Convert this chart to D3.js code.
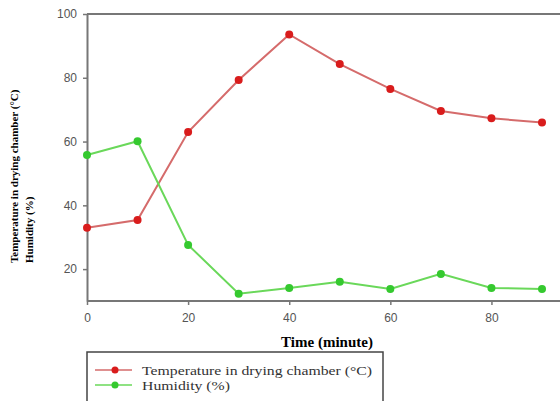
<!DOCTYPE html>
<html>
<head>
  <script src="https://d3js.org/d3.v7.min.js"></script>
  <style>
    body { margin: 0; background: #fff; }
  </style>
</head>
<body>
  <div id="chart"></div>
  <script>
    // data
    const times = [0, 10, 20, 30, 40, 50, 60, 70, 80, 90];
    const temperature = [33, 35.4, 63, 79.3, 93.6, 84.3, 76.5, 69.6, 67.3, 66];
    const humidity = [55.8, 60.1, 27.6, 12.3, 14.1, 16, 13.8, 18.5, 14.1, 13.8];
    const xTicks = [0, 20, 40, 60, 80];
    const yTicks = [20, 40, 60, 80, 100];
    const seriesNames = ['Temperature in drying chamber (°C)', 'Humidity (%)'];

    const width = 560, height = 401;
    const svg = d3.select('#chart')
      .append('svg')
      .attr('width', width)
      .attr('height', height);

    const x = d3.scaleLinear().domain([0, 90]).range([87, 542]);
    const y = d3.scaleLinear().domain([10, 100]).range([301, 14]);

    const series = [
      { name: seriesNames[0], values: temperature, line: '#d56b6b', dot: '#d91c1c', textLen: 230 },
      { name: seriesNames[1], values: humidity, line: '#6ad85a', dot: '#35c92f', textLen: 88 }
    ];

    // top frame line
    svg.append('line')
      .attr('x1', 87).attr('x2', width)
      .attr('y1', y(100)).attr('y2', y(100))
      .attr('stroke', '#777').attr('stroke-width', 2);

    // axes
    const xAxis = svg.append('g')
      .attr('transform', `translate(0, ${y(10)})`)
      .call(d3.axisBottom(x).tickValues(xTicks).tickSize(4).tickPadding(8).tickSizeOuter(0));
    const yAxis = svg.append('g')
      .attr('transform', `translate(${x(0)}, 0)`)
      .call(d3.axisLeft(y).tickValues(yTicks).tickSize(4).tickPadding(6).tickSizeOuter(0));

    [xAxis, yAxis].forEach(g => {
      g.select('.domain').attr('stroke', '#777').attr('stroke-width', 2);
      g.selectAll('.tick line').attr('stroke', '#777').attr('stroke-width', 1.5);
      g.selectAll('.tick text')
        .attr('fill', '#555')
        .style('font-family', 'Liberation Sans, Arial, sans-serif')
        .style('font-size', '12px');
    });
    // bottom axis line runs on to the right edge
    xAxis.select('.domain').attr('d', `M${x(0)},0H${width}`);

    // lines and points
    const line = d3.line()
      .x((d, i) => x(times[i]))
      .y(d => y(d));

    series.forEach(s => {
      svg.append('path')
        .datum(s.values)
        .attr('fill', 'none')
        .attr('stroke', s.line)
        .attr('stroke-width', 2)
        .attr('d', line);
      svg.selectAll(null)
        .data(s.values)
        .enter()
        .append('circle')
        .attr('cx', (d, i) => x(times[i]))
        .attr('cy', d => y(d))
        .attr('r', 4)
        .attr('fill', s.dot);
    });

    // axis titles
    svg.append('text')
      .attr('x', 327).attr('y', 347)
      .attr('text-anchor', 'middle')
      .style('font-family', 'Liberation Serif, Times New Roman, serif')
      .style('font-weight', 'bold')
      .style('font-size', '15px')
      .text('Time (minute)');

    const yTitle = svg.append('text')
      .attr('transform', 'translate(18, 263) rotate(-90)')
      .attr('text-anchor', 'start')
      .style('font-family', 'Liberation Serif, Times New Roman, serif')
      .style('font-weight', 'bold')
      .style('font-size', '11px');
    yTitle.append('tspan').attr('x', 0).attr('dy', 0).text(seriesNames[0]);
    yTitle.append('tspan').attr('x', 0).attr('dy', 15).text(seriesNames[1]);

    // legend
    const legend = svg.append('g');
    legend.append('rect')
      .attr('x', 87).attr('y', 352)
      .attr('width', 296).attr('height', 60)
      .attr('fill', 'none')
      .attr('stroke', '#444')
      .attr('stroke-width', 1.5);

    series.forEach((s, i) => {
      const ly = 370 + i * 15;
      legend.append('line')
        .attr('x1', 95).attr('x2', 132)
        .attr('y1', ly).attr('y2', ly)
        .attr('stroke', s.line).attr('stroke-width', 1.5);
      legend.append('circle')
        .attr('cx', 115).attr('cy', ly).attr('r', 3.5)
        .attr('fill', s.dot);
      legend.append('text')
        .attr('x', 142).attr('y', ly + 5)
        .attr('textLength', s.textLen)
        .attr('lengthAdjust', 'spacingAndGlyphs')
        .style('font-family', 'Liberation Serif, Times New Roman, serif')
        .style('font-size', '13px')
        .attr('fill', '#333')
        .text(s.name);
    });
  </script>
</body>
</html>
